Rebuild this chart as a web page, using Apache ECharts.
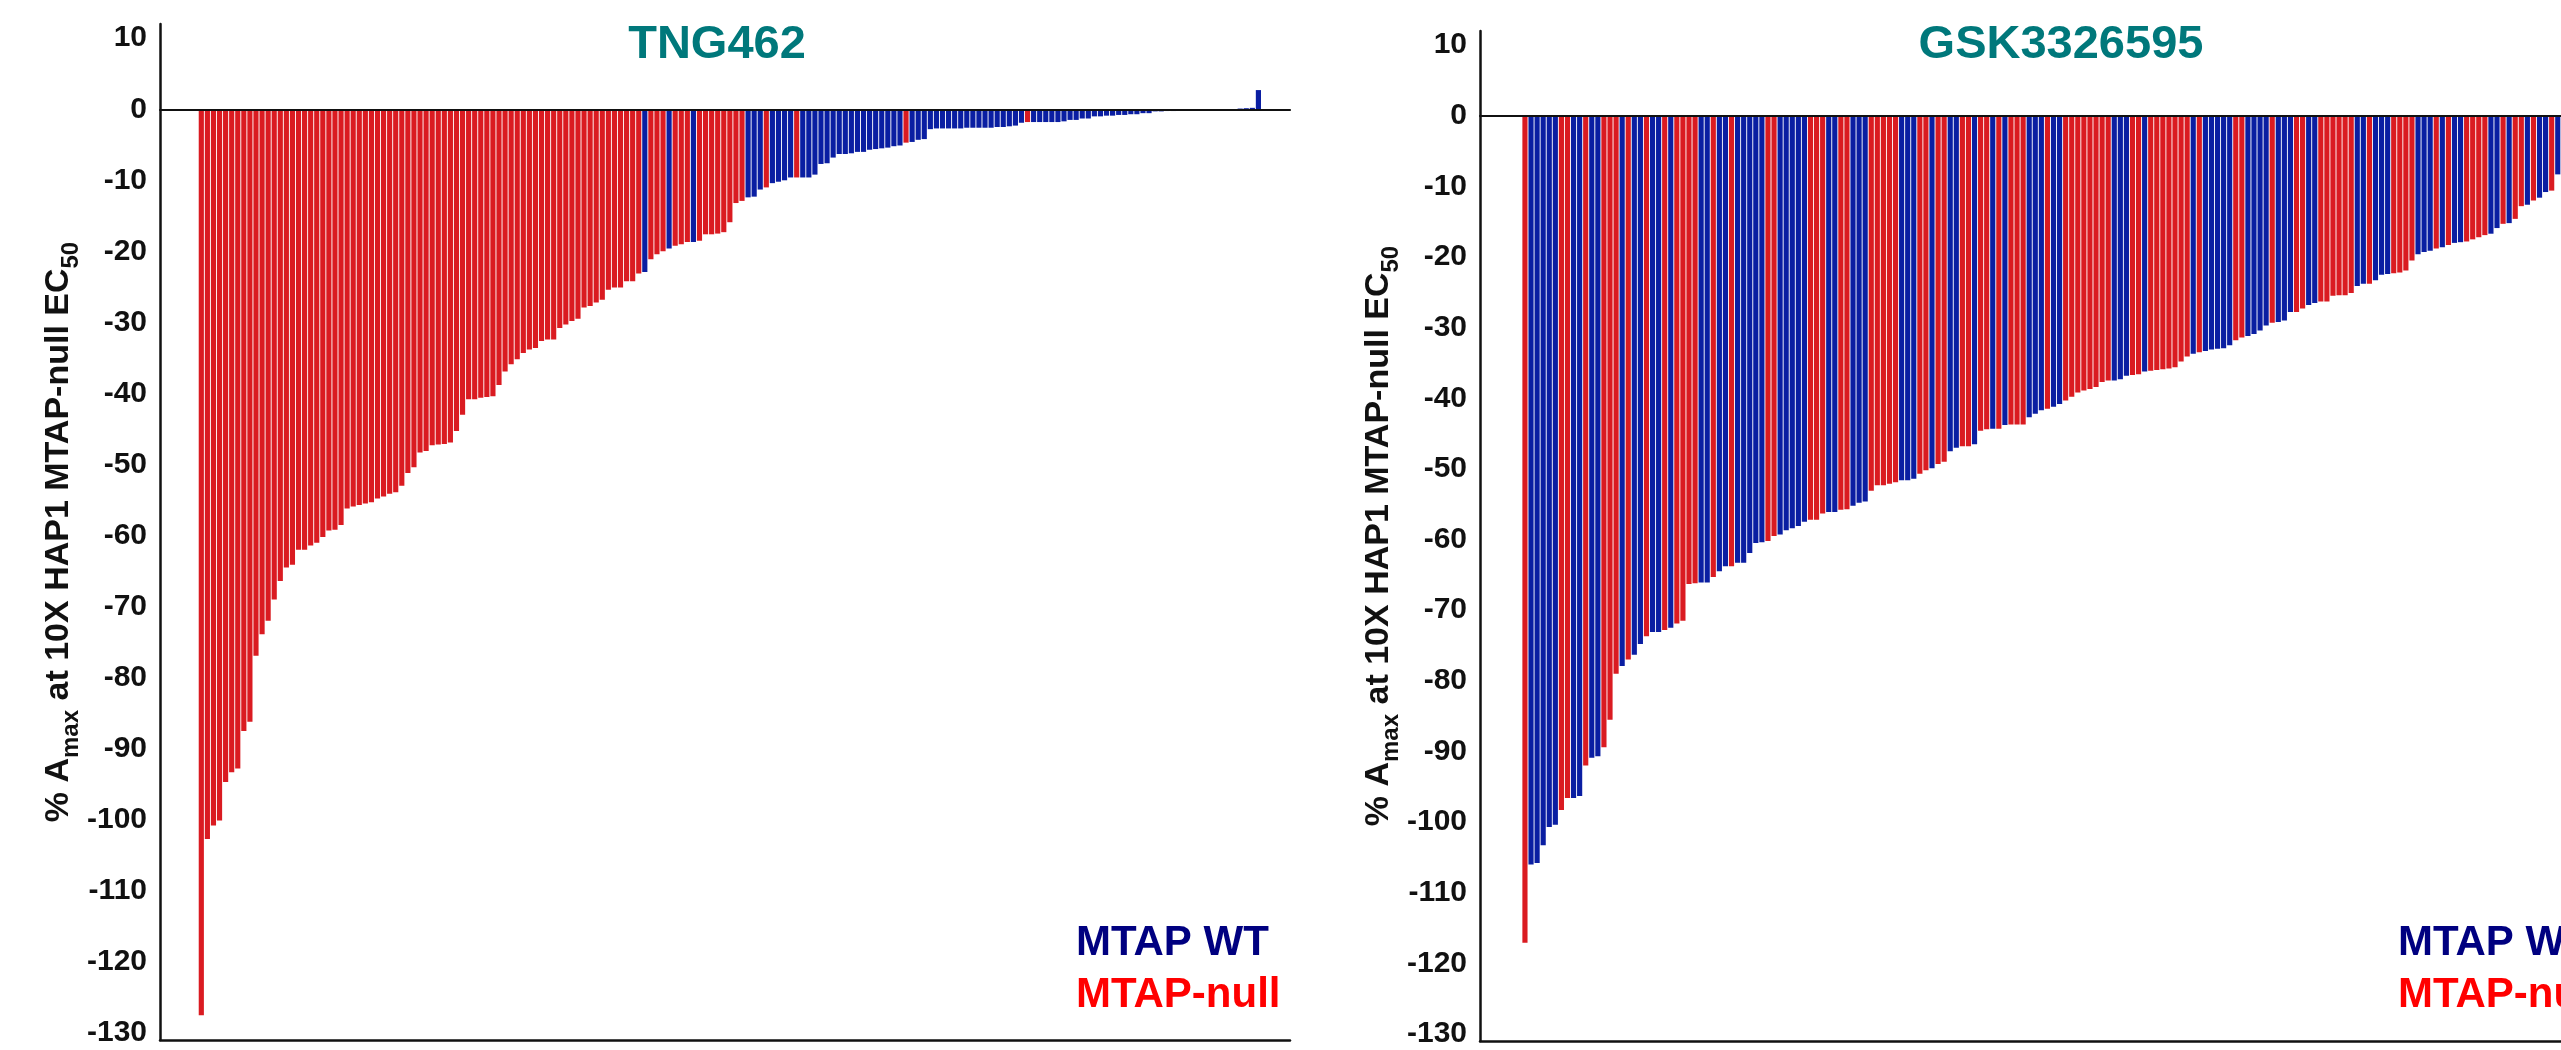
<!DOCTYPE html>
<html>
<head>
<meta charset="utf-8">
<title>MTAP waterfall</title>
<script src="https://cdn.jsdelivr.net/npm/echarts@6/dist/echarts.min.js"></script>
<style>
  html, body { margin: 0; padding: 0; background: #fff; }
  #chart { width: 2561px; height: 1050px; }
</style>
</head>
<body>
<div id="chart"></div>
<script>
// tick labels on the y axes
const tickValues = [10, 0, -10, -20, -30, -40, -50, -60, -70, -80, -90, -100, -110, -120, -130];

// TNG462 panel, one value per cell line, sorted
const tngValues = [
  -127.5, -102.7, -100.8, -100.1, -94.7, -93.3, -92.8, -87.5, -86.2, -76.9,
  -73.9, -72.0, -69.0, -66.4, -64.5, -64.1, -62.0, -62.0, -61.4, -61.0,
  -60.2, -59.3, -59.2, -58.5, -56.2, -55.9, -55.7, -55.5, -55.3, -54.8,
  -54.5, -54.1, -53.9, -53.0, -51.2, -50.4, -48.3, -48.1, -47.3, -47.2,
  -47.1, -46.9, -45.3, -43.0, -40.8, -40.8, -40.6, -40.5, -40.4, -38.8,
  -36.9, -35.9, -35.2, -34.3, -33.8, -33.6, -32.6, -32.4, -32.4, -30.8,
  -30.3, -29.8, -29.5, -27.9, -27.7, -27.2, -26.8, -25.4, -25.1, -25.1,
  -24.2, -24.2, -23.1, -22.9, -21.1, -20.4, -20.0, -19.6, -19.2, -19.0,
  -18.7, -18.7, -18.5, -17.6, -17.6, -17.5, -17.3, -15.9, -13.2, -12.9,
  -12.4, -12.3, -11.3, -11.0, -10.4, -10.2, -10.0, -9.6, -9.6, -9.6,
  -9.6, -9.2, -7.7, -7.6, -6.8, -6.3, -6.3, -6.2, -6.0, -6.0,
  -5.7, -5.6, -5.5, -5.4, -5.2, -5.1, -4.7, -4.6, -4.3, -4.2,
  -2.8, -2.7, -2.7, -2.7, -2.7, -2.7, -2.6, -2.6, -2.6, -2.6,
  -2.6, -2.5, -2.5, -2.4, -2.3, -1.9, -1.8, -1.8, -1.8, -1.8,
  -1.8, -1.8, -1.7, -1.5, -1.5, -1.3, -1.3, -1.0, -1.0, -0.9,
  -0.9, -0.8, -0.8, -0.7, -0.7, -0.55, -0.55, -0.3, -0.3, -0.25,
  -0.25, -0.2, -0.2, -0.2, -0.15, -0.15, -0.1, -0.1, -0.1, -0.05,
  -0.05, 0.1, 0.15, 0.2, 2.7
];
// runs of genotype along the sorted cell lines: N = MTAP-null, W = MTAP WT
const tngGroupRuns = [
  ['N', 73], ['W', 1], ['N', 3], ['W', 1], ['N', 3], ['W', 1], ['N', 8], ['W', 3],
  ['N', 1], ['W', 4], ['N', 1], ['W', 17], ['N', 1], ['W', 19], ['N', 1], ['W', 38]
];

// GSK3326595 panel (right side is cut off in the figure)
const gskValues = [
  -117.1, -106.0, -105.8, -103.3, -100.7, -100.4, -98.3, -96.6, -96.6, -96.3,
  -92.0, -90.9, -90.7, -89.4, -85.5, -79.0, -77.9, -77.0, -76.3, -74.8,
  -73.7, -73.1, -73.1, -72.8, -72.5, -71.9, -71.5, -66.3, -66.2, -66.1,
  -66.1, -65.3, -64.5, -63.8, -63.8, -63.3, -63.3, -61.9, -60.5, -60.4,
  -60.2, -59.5, -59.3, -58.7, -58.4, -58.1, -57.5, -57.2, -57.2, -56.3,
  -56.1, -56.1, -55.8, -55.7, -55.2, -54.8, -54.6, -53.1, -52.3, -52.3,
  -52.1, -51.9, -51.6, -51.6, -51.4, -50.7, -50.2, -49.9, -49.3, -49.0,
  -47.5, -47.0, -46.8, -46.8, -46.5, -44.6, -44.4, -44.3, -44.3, -43.8,
  -43.7, -43.7, -43.7, -42.7, -42.2, -41.7, -41.5, -41.2, -40.8, -40.3,
  -39.8, -39.2, -38.9, -38.7, -38.4, -37.7, -37.5, -37.5, -37.3, -36.8,
  -36.7, -36.6, -36.2, -36.1, -36.0, -35.9, -35.8, -35.6, -34.8, -34.1,
  -33.7, -33.5, -33.3, -33.1, -33.0, -32.9, -32.5, -31.8, -31.4, -31.2,
  -30.9, -30.4, -29.7, -29.3, -29.2, -29.0, -27.8, -27.8, -27.3, -26.8,
  -26.5, -26.3, -26.3, -25.5, -25.4, -25.4, -25.1, -24.1, -23.8, -23.8,
  -23.3, -22.5, -22.4, -22.3, -22.2, -21.9, -20.5, -19.6, -19.3, -19.1,
  -18.8, -18.6, -18.3, -18.0, -17.9, -17.8, -17.5, -17.2, -16.9, -16.7,
  -15.9, -15.3, -15.2, -14.6, -12.8, -12.6, -12.0, -11.6, -10.8, -10.6,
  -8.3
];
const gskGroupRuns = [
  ['N', 1], ['W', 5], ['N', 2], ['W', 2], ['N', 1], ['W', 2], ['N', 3], ['W', 1],
  ['N', 1], ['W', 2], ['N', 1], ['W', 2], ['N', 1], ['W', 1], ['N', 4], ['W', 2],
  ['N', 1], ['W', 2], ['N', 1], ['W', 5], ['N', 2], ['W', 5], ['N', 3], ['W', 2],
  ['N', 2], ['W', 3], ['N', 5], ['W', 3], ['N', 2], ['W', 1], ['N', 2], ['W', 2],
  ['N', 2], ['W', 1], ['N', 2], ['W', 1], ['N', 1], ['W', 1], ['N', 3], ['W', 3],
  ['N', 1], ['W', 2], ['N', 8], ['W', 3], ['N', 2], ['W', 1], ['N', 7], ['W', 1],
  ['N', 1], ['W', 5], ['N', 2], ['W', 4], ['N', 1], ['W', 3], ['N', 2], ['W', 2],
  ['N', 6], ['W', 2], ['N', 1], ['W', 3], ['N', 4], ['W', 3], ['N', 1], ['W', 1],
  ['N', 1], ['W', 2], ['N', 4], ['W', 2], ['N', 1], ['W', 1], ['N', 2], ['W', 1],
  ['N', 1], ['W', 2], ['N', 1], ['W', 1]
];

const panelTitles = ['TNG462', 'GSK3326595'];
const legendLabels = ['MTAP WT', 'MTAP-null'];

const FONT = '"Liberation Sans", Arial, Helvetica, sans-serif';
const COLOR_WT = '#0A1EA2';
const COLOR_NULL = '#DA1B21';
const INK = '#111';
const TEAL = '#00787B';

function expandRuns(runs) {
  const out = [];
  runs.forEach(([g, n]) => { for (let k = 0; k < n; k++) out.push(g); });
  return out;
}

function barData(values, runs) {
  const groups = expandRuns(runs);
  return values.map((v, i) => ({
    value: [i + 1, v],
    itemStyle: { color: groups[i] === 'W' ? COLOR_WT : COLOR_NULL }
  }));
}

const yName = '{t|% A}{s|max}{t| at 10X HAP1 MTAP-null EC}{s|50}';

function makeYAxis(gridIndex) {
  return {
    type: 'value',
    gridIndex,
    min: -131,
    max: 12,
    // keep the axis at the grid's left edge, not at x = 0
    axisLine: { show: true, onZero: false, lineStyle: { color: INK, width: 2.5 } },
    axisTick: { show: false },
    axisLabel: {
      customValues: tickValues,
      fontSize: 30, fontWeight: 'bold', color: INK, fontFamily: FONT, margin: 13
    },
    splitLine: { show: false },
    name: yName,
    nameLocation: 'middle',
    nameRotate: 90,
    nameGap: 77,
    nameTextStyle: {
      color: INK,
      fontFamily: FONT,
      rich: {
        t: { fontSize: 34, fontWeight: 'bold', fontFamily: FONT, color: INK, lineHeight: 48 },
        s: { fontSize: 24, fontWeight: 'bold', fontFamily: FONT, color: INK, lineHeight: 24, verticalAlign: 'bottom' }
      }
    }
  };
}

function makeXAxes(gridIndex, min, max) {
  const base = {
    type: 'value', gridIndex, min, max,
    axisTick: { show: false }, axisLabel: { show: false }, splitLine: { show: false }, z: 5
  };
  return [
    Object.assign({}, base, { axisLine: { show: true, onZero: true, lineStyle: { color: INK, width: 2.2 } } }),
    Object.assign({}, base, { position: 'bottom', axisLine: { show: true, onZero: false, lineStyle: { color: INK, width: 2.5 } } })
  ];
}

function titleText(text, x) {
  return {
    type: 'text', x, y: 45,
    style: { text, font: 'bold 47px ' + FONT, fill: TEAL, align: 'center', verticalAlign: 'middle' }
  };
}

function legendTexts(x) {
  return [
    { type: 'text', x, y: 943, style: { text: legendLabels[0], font: 'bold 42px ' + FONT, fill: '#000080', align: 'left', verticalAlign: 'middle' } },
    { type: 'text', x, y: 995, style: { text: legendLabels[1], font: 'bold 42px ' + FONT, fill: '#FF0000', align: 'left', verticalAlign: 'middle' } }
  ];
}

const chart = echarts.init(document.getElementById('chart'));
chart.setOption({
  animation: false,
  backgroundColor: '#fff',
  grid: [
    { left: 160, top: 24, width: 1130, height: 1016, outerBoundsMode: 'none', containLabel: false },
    { left: 1480, top: 31, width: 1130, height: 1010, outerBoundsMode: 'none', containLabel: false }
  ],
  xAxis: makeXAxes(0, -5.8, 180.2).concat(makeXAxes(1, -6.4, 179.6)),
  yAxis: [makeYAxis(0), makeYAxis(1)],
  series: [
    {
      name: panelTitles[0], type: 'bar', xAxisIndex: 0, yAxisIndex: 0,
      barWidth: '85%', silent: true, data: barData(tngValues, tngGroupRuns)
    },
    {
      name: panelTitles[1], type: 'bar', xAxisIndex: 2, yAxisIndex: 1,
      barWidth: '85%', silent: true, data: barData(gskValues, gskGroupRuns)
    }
  ],
  graphic: [
    titleText(panelTitles[0], 717),
    titleText(panelTitles[1], 2061)
  ].concat(legendTexts(1076), legendTexts(2398))
});
</script>
</body>
</html>
